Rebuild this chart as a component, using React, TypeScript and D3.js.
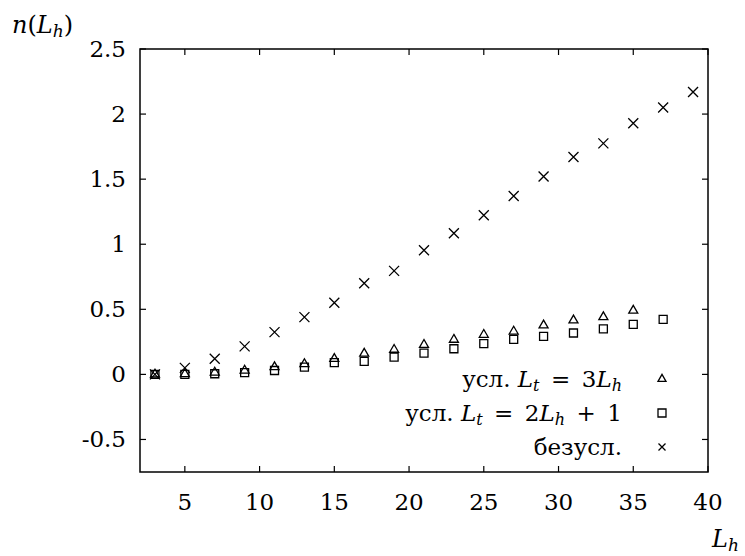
import React from "react";
import * as d3 from "d3";

const xTicks = [5, 10, 15, 20, 25, 30, 35, 40];
const yTicks = [-0.5, 0, 0.5, 1, 1.5, 2, 2.5];
const yTickLabels = ["-0.5", "0", "0.5", "1", "1.5", "2", "2.5"];

const lhTri = [3, 5, 7, 9, 11, 13, 15, 17, 19, 21, 23, 25, 27, 29, 31, 33, 35];
const nTri = [0, 0.003, 0.015, 0.03, 0.056, 0.08, 0.12, 0.16, 0.19, 0.228, 0.267, 0.305, 0.33, 0.377, 0.415, 0.44, 0.49];

const lhSq = [3, 5, 7, 9, 11, 13, 15, 17, 19, 21, 23, 25, 27, 29, 31, 33, 35, 37];
const nSq = [0, 0, 0.005, 0.013, 0.03, 0.056, 0.09, 0.1, 0.133, 0.164, 0.197, 0.236, 0.269, 0.292, 0.318, 0.35, 0.385, 0.423];

const lhX = [3, 5, 7, 9, 11, 13, 15, 17, 19, 21, 23, 25, 27, 29, 31, 33, 35, 37, 39];
const nX = [0, 0.05, 0.12, 0.215, 0.325, 0.44, 0.55, 0.7, 0.795, 0.954, 1.085, 1.223, 1.37, 1.52, 1.67, 1.775, 1.93, 2.05, 2.17];

const W = 745, H = 556;
const left = 140, right = 708, top = 49, bottom = 472;
const font = "'DejaVu Serif', serif";
const fs = 23, sub = 16;

const x = d3.scaleLinear().domain([2, 40]).range([left, right]);
const y = d3.scaleLinear().domain([-0.75, 2.5]).range([bottom, top]);

const triPath = (s: number) => d3.symbol().type(d3.symbolTriangle).size(s * s * Math.sqrt(3) / 4)()!;
const sqPath = (s: number) => d3.symbol().type(d3.symbolSquare).size(s * s)()!;
const crossPath = (s: number) => {
  const h = s / 2;
  return `M${-h},${-h}L${h},${h}M${-h},${h}L${h},${-h}`;
};

function Marks({ xs, ys, d }: { xs: number[]; ys: number[]; d: string }) {
  return (
    <g fill="none" stroke="#000" strokeWidth={1.3}>
      {xs.map((v, i) => (
        <path key={i} d={d} transform={`translate(${x(v)},${y(ys[i])})`} />
      ))}
    </g>
  );
}

export default function App() {
  const tick = 6;
  // \u2002 = en space, to mimic the math spacing around "=" and "+"
  const legend = [
    { y: 379, sym: triPath(8), parts: [["усл. ", false], ["L", true], ["t", "sub"], ["\u2002=\u20023", false], ["L", true], ["h", "sub"]] },
    { y: 413, sym: sqPath(8), parts: [["усл. ", false], ["L", true], ["t", "sub"], ["\u2002=\u20022", false], ["L", true], ["h", "sub"], ["\u2002+\u20021", false]] },
    { y: 447, sym: crossPath(7), parts: [["безусл.", false]] },
  ];
  return (
    <svg width={W} height={H} style={{ position: "absolute", left: 0, top: 0, fontFamily: font }}>
      <rect width={W} height={H} fill="#fff" />
      <rect x={left} y={top} width={right - left} height={bottom - top} fill="none" stroke="#000" strokeWidth={1.5} />
      <g stroke="#000" strokeWidth={1.2}>
        {xTicks.map((t) => (
          <g key={t}>
            <line x1={x(t)} x2={x(t)} y1={bottom} y2={bottom - tick} />
            <line x1={x(t)} x2={x(t)} y1={top} y2={top + tick} />
          </g>
        ))}
        {yTicks.map((t) => (
          <g key={t}>
            <line x1={left} x2={left + tick} y1={y(t)} y2={y(t)} />
            <line x1={right} x2={right - tick} y1={y(t)} y2={y(t)} />
          </g>
        ))}
      </g>
      <g fontSize={fs} fill="#000">
        {xTicks.map((t) => (
          <text key={t} x={x(t)} y={510} textAnchor="middle">{t}</text>
        ))}
        {yTicks.map((t, i) => (
          <text key={t} x={126} y={y(t) + 8} textAnchor="end">{yTickLabels[i]}</text>
        ))}
      </g>
      <text x={12} y={33} fontSize={fs + 1}>
        <tspan fontStyle="italic">n</tspan>(<tspan fontStyle="italic">L</tspan>
        <tspan fontStyle="italic" fontSize={sub + 1} dy={4}>h</tspan>
        <tspan dy={-4}>)</tspan>
      </text>
      <text x={712} y={547} fontSize={fs + 1}>
        <tspan fontStyle="italic">L</tspan>
        <tspan fontStyle="italic" fontSize={sub + 1} dy={4}>h</tspan>
      </text>

      <Marks xs={lhTri} ys={nTri} d={triPath(9)} />
      <Marks xs={lhSq} ys={nSq} d={sqPath(8)} />
      <Marks xs={lhX} ys={nX} d={crossPath(10)} />

      {legend.map((l, i) => (
        <g key={i}>
          <text x={622} y={l.y + 8} fontSize={fs} textAnchor="end">
            {l.parts.map(([s, k], j) => {
              if (k === "sub") return <tspan key={j} fontStyle="italic" fontSize={sub} dy={4}>{s}</tspan>;
              const prevSub = j > 0 && l.parts[j - 1][1] === "sub";
              return <tspan key={j} fontStyle={k ? "italic" : "normal"} dy={prevSub ? -4 : 0}>{s as string}</tspan>;
            })}
          </text>
          <path d={l.sym} transform={`translate(662,${l.y})`} fill="none" stroke="#000" strokeWidth={1.3} />
        </g>
      ))}
    </svg>
  );
}
